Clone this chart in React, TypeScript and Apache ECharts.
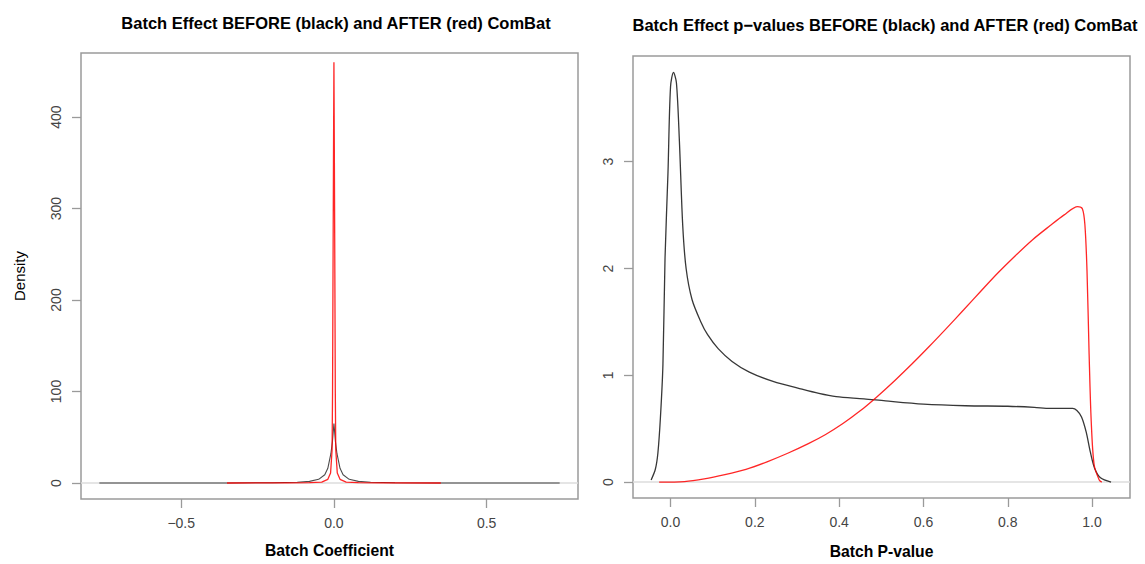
import React, { useEffect, useRef } from "react";
import * as echarts from "echarts";

// ---- Left panel: Batch coefficient densities ----
const coefBeforeX = [-0.768, -0.5, -0.35, -0.2, -0.12, -0.08, -0.05, -0.03, -0.02, -0.01, -0.005, 0, 0.005, 0.01, 0.02, 0.03, 0.05, 0.08, 0.12, 0.2, 0.35, 0.5, 0.739];
const coefBeforeY = [0, 0.01, 0.05, 0.3, 0.8, 1.8, 4, 9, 16, 32, 45, 65, 45, 32, 16, 9, 4, 1.8, 0.8, 0.3, 0.05, 0.01, 0];
const coefAfterX = [-0.35, -0.15, -0.08, -0.04, -0.02, -0.011, -0.006, -0.0045, -0.003, -0.0015, 0, 0.0015, 0.003, 0.0045, 0.006, 0.011, 0.02, 0.04, 0.08, 0.15, 0.35];
const coefAfterY = [0, 0.08, 0.3, 1, 4, 11, 36, 100, 230, 350, 460, 350, 230, 100, 36, 11, 4, 1, 0.3, 0.08, 0];
const coefXTicks = [-0.5, 0, 0.5];
const densityYTicks = [0, 100, 200, 300, 400];

// ---- Right panel: Batch p-value densities ----
const pBeforeX = [-0.046, -0.036, -0.03, -0.024, -0.018, -0.013, -0.006, 0.0, 0.007, 0.014, 0.021, 0.029, 0.037, 0.051, 0.072, 0.088, 0.113, 0.146, 0.187, 0.245, 0.302, 0.352, 0.393, 0.459, 0.51, 0.6, 0.7, 0.8, 0.863, 0.9, 0.954, 0.964, 0.975, 0.986, 0.996, 1.006, 1.02, 1.045];
const pBeforeY = [0.02, 0.12, 0.27, 0.6, 1.1, 2.1, 2.9, 3.7, 3.837, 3.74, 3.2, 2.4, 2.0, 1.71, 1.5, 1.38, 1.25, 1.13, 1.03, 0.94, 0.88, 0.83, 0.8, 0.78, 0.76, 0.73, 0.715, 0.71, 0.7, 0.69, 0.69, 0.67, 0.61, 0.47, 0.28, 0.13, 0.04, 0];
const pAfterX = [-0.027, 0.033, 0.08, 0.129, 0.179, 0.229, 0.278, 0.327, 0.368, 0.409, 0.45, 0.49, 0.531, 0.572, 0.613, 0.654, 0.695, 0.736, 0.777, 0.818, 0.859, 0.9, 0.933, 0.966, 0.977, 0.983, 0.988, 0.993, 0.998, 1.005, 1.017, 1.023];
const pAfterY = [0, 0.005, 0.03, 0.07, 0.12, 0.19, 0.27, 0.36, 0.446, 0.548, 0.667, 0.8, 0.947, 1.103, 1.267, 1.437, 1.611, 1.787, 1.96, 2.12, 2.27, 2.4, 2.5, 2.58, 2.56, 2.41, 1.98, 1.2, 0.57, 0.16, 0.02, 0];
const pXTicks = [0, 0.2, 0.4, 0.6, 0.8, 1.0];
const pYTicks = [0, 1, 2, 3];

const zip = (xs: number[], ys: number[]) => xs.map((x, i) => [x, ys[i]]);
const fmt1 = (v: number) => {
  const s = Math.abs(v).toFixed(1);
  return v < -1e-9 ? "\u2212" + s : s;
};

const FONT = "Liberation Sans, Arial, sans-serif";
const BOX = "#9a9a9a";
const ZERO = "#dcdcdc";
const BLACK = "rgba(20,20,20,0.85)";
const RED = "rgba(255,0,0,0.85)";

export default function App() {
  const ref = useRef<HTMLDivElement>(null);
  useEffect(() => {
    const chart = echarts.init(ref.current!, undefined, { renderer: "svg" });
    const axisCommon = {
      type: "value" as const,
      axisLine: { show: false, onZero: false },
      splitLine: { show: false },
      axisTick: { show: true, inside: false, length: 9, lineStyle: { color: BOX, width: 1.3 } },
    };
    const labelCommon = { color: "#444", fontFamily: FONT, fontSize: 14 };
    const nameStyle = { color: "#000", fontFamily: FONT, fontSize: 15.7, fontWeight: "bold" as const };
    const titleStyle = { color: "#000", fontFamily: FONT, fontSize: 16.5, fontWeight: "bold" as const };
    chart.setOption({
      animation: false,
      backgroundColor: "#ffffff",
      title: [
        { text: "Batch Effect BEFORE (black) and AFTER (red) ComBat", left: 331, top: 9, textAlign: "center", textStyle: titleStyle },
        { text: "Batch Effect p\u2212values BEFORE (black) and AFTER (red) ComBat", left: 880, top: 11, textAlign: "center", textStyle: titleStyle },
      ],
      grid: [
        { left: 81, top: 53, width: 497, height: 446, show: true, borderColor: BOX, borderWidth: 1.5, backgroundColor: "transparent" },
        { left: 633, top: 56, width: 497, height: 444, show: true, borderColor: BOX, borderWidth: 1.5, backgroundColor: "transparent" },
      ],
      xAxis: [
        {
          ...axisCommon, gridIndex: 0, min: -0.828, max: 0.799,
          axisTick: { ...axisCommon.axisTick, customValues: coefXTicks },
          axisLabel: { ...labelCommon, margin: 17, customValues: coefXTicks, formatter: (v: number) => fmt1(v) },
          name: "Batch Coefficient", nameLocation: "middle", nameGap: 43, nameTextStyle: nameStyle,
        },
        {
          ...axisCommon, gridIndex: 1, min: -0.089, max: 1.09,
          axisTick: { ...axisCommon.axisTick, customValues: pXTicks },
          axisLabel: { ...labelCommon, margin: 17, customValues: pXTicks, formatter: (v: number) => fmt1(v) },
          name: "Batch P-value", nameLocation: "middle", nameGap: 45, nameTextStyle: nameStyle,
        },
      ],
      yAxis: [
        {
          ...axisCommon, gridIndex: 0, min: -17.5, max: 470,
          axisTick: { ...axisCommon.axisTick, customValues: densityYTicks },
          axisLabel: { ...labelCommon, margin: 18, rotate: 90, customValues: densityYTicks, formatter: (v: number) => String(v) },
          name: "Density", nameLocation: "middle", nameGap: 54, nameRotate: 90,
          nameTextStyle: { color: "#000", fontFamily: FONT, fontSize: 15 },
        },
        {
          ...axisCommon, gridIndex: 1, min: -0.149, max: 3.99,
          axisTick: { ...axisCommon.axisTick, customValues: pYTicks },
          axisLabel: { ...labelCommon, margin: 18, rotate: 90, customValues: pYTicks, formatter: (v: number) => String(v) },
        },
      ],
      series: [
        { type: "line", xAxisIndex: 0, yAxisIndex: 0, data: [[-0.828, 0], [0.799, 0]], symbol: "none", z: 1, silent: true, lineStyle: { color: ZERO, width: 1.5 } },
        { type: "line", xAxisIndex: 0, yAxisIndex: 0, data: zip(coefBeforeX, coefBeforeY), symbol: "none", z: 2, lineStyle: { color: "rgba(0,0,0,0.7)", width: 1.1 } },
        { type: "line", xAxisIndex: 0, yAxisIndex: 0, data: zip(coefAfterX, coefAfterY), symbol: "none", z: 3, lineStyle: { color: RED, width: 1.3 } },
        { type: "line", xAxisIndex: 1, yAxisIndex: 1, data: [[-0.089, 0], [1.09, 0]], symbol: "none", z: 1, silent: true, lineStyle: { color: ZERO, width: 1.5 } },
        { type: "line", xAxisIndex: 1, yAxisIndex: 1, data: zip(pBeforeX, pBeforeY), symbol: "none", z: 2, smooth: 0.3, lineStyle: { color: BLACK, width: 1.3 } },
        { type: "line", xAxisIndex: 1, yAxisIndex: 1, data: zip(pAfterX, pAfterY), symbol: "none", z: 3, smooth: 0.3, lineStyle: { color: RED, width: 1.3 } },
      ],
    });
    return () => chart.dispose();
  }, []);
  return <div ref={ref} style={{ position: "fixed", left: 0, top: 0, width: 1145, height: 564 }} />;
}
